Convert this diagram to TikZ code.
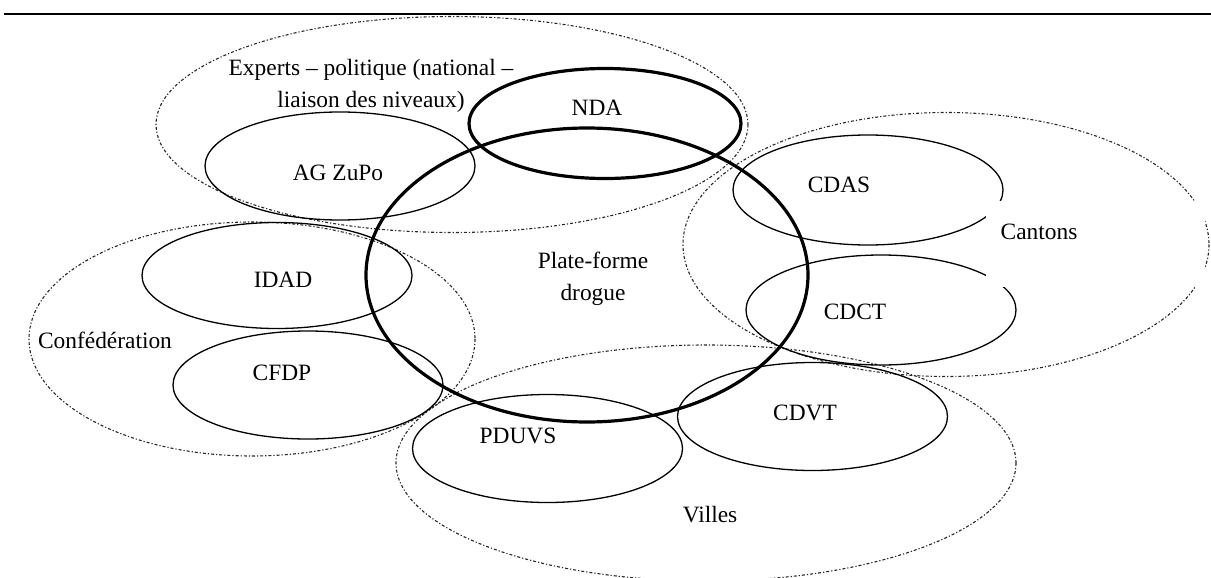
\documentclass[tikz,border=0pt]{standalone}
\usepackage{fontspec}
\setmainfont{Liberation Serif}

\begin{document}
\begin{tikzpicture}[x=0.5pt, y=-0.5pt,
groupset/.style={draw=black!85, line width=0.55pt, dash pattern=on 1.5pt off 1pt on 0.6pt off 1pt},
bodyset/.style={draw=black, line width=0.65pt},
keyset/.style={draw=black, line width=1.6pt},
setlabel/.style={font=\fontsize{11.7}{16}\selectfont, align=center, inner sep=0pt},
]
\useasboundingbox (0,0) rectangle (1211,578);
\clip (0,0) rectangle (1211,578);

%Centres
\coordinate (experts) at (452,124.5);
\coordinate (conf)    at (252,339);
\coordinate (cantons) at (946,244.5);
\coordinate (villes)  at (706,463);
\coordinate (agzupo)  at (340,166);
\coordinate (idad)    at (277,275.5);
\coordinate (cfdp)    at (308,385);
\coordinate (cdas)    at (868,190);
\coordinate (cdct)    at (881,310);
\coordinate (cdvt)    at (812.5,416.5);
\coordinate (pduvs)   at (547.5,448.5);
\coordinate (nda)     at (605,123.5);
\coordinate (plate)   at (587,275);
\coordinate (ruleL)   at (4,14);
\coordinate (ruleR)   at (1211,14);

%Rule
\draw[line width=1pt] (ruleL) -- (ruleR);

%Groups
\draw[groupset] (experts) ellipse [x radius=296, y radius=108];
\draw[groupset] (conf)    ellipse [x radius=223, y radius=117];
\draw[groupset] (cantons) ellipse [x radius=263, y radius=132];
\draw[groupset] (villes)  ellipse [x radius=310, y radius=118];

%Bodies
\draw[bodyset] (agzupo) ellipse [x radius=135, y radius=54];
\draw[bodyset] (idad)   ellipse [x radius=135, y radius=53];
\draw[bodyset] (cfdp)   ellipse [x radius=135, y radius=54];
\draw[bodyset] (cdas)   ellipse [x radius=135, y radius=55];
\draw[bodyset] (cdct)   ellipse [x radius=135, y radius=55];
\draw[bodyset] (cdvt)   ellipse [x radius=135, y radius=54];
\draw[bodyset] (pduvs)  ellipse [x radius=135, y radius=54];
\draw[keyset]  (nda)    ellipse [x radius=136, y radius=55];
\draw[keyset]  (plate)  ellipse [x radius=221, y radius=147];

%Labels
\fill[white] (986,201) rectangle (1205,287);
\node[setlabel] (expertslabel) at (371,86)  {Experts -- politique (national --\\liaison des niveaux)};
\node[setlabel] (conflabel)    at (105,340) {Confédération};
\node[setlabel] (cantonslabel) at (1039,232) {Cantons};
\node[setlabel] (villeslabel)  at (710,515) {Villes};
\node[setlabel] (agzupolabel)  at (338,173) {AG ZuPo};
\node[setlabel] (idadlabel)    at (283,280) {IDAD};
\node[setlabel] (cfdplabel)    at (282,373) {CFDP};
\node[setlabel] (cdaslabel)    at (839,185) {CDAS};
\node[setlabel] (cdctlabel)    at (855,312) {CDCT};
\node[setlabel] (cdvtlabel)    at (805,413) {CDVT};
\node[setlabel] (pduvslabel)   at (518,436) {PDUVS};
\node[setlabel] (ndalabel)     at (597,108) {NDA};
\node[setlabel] (platelabel)   at (593,279) {Plate-forme\\drogue};
\end{tikzpicture}
\end{document}
